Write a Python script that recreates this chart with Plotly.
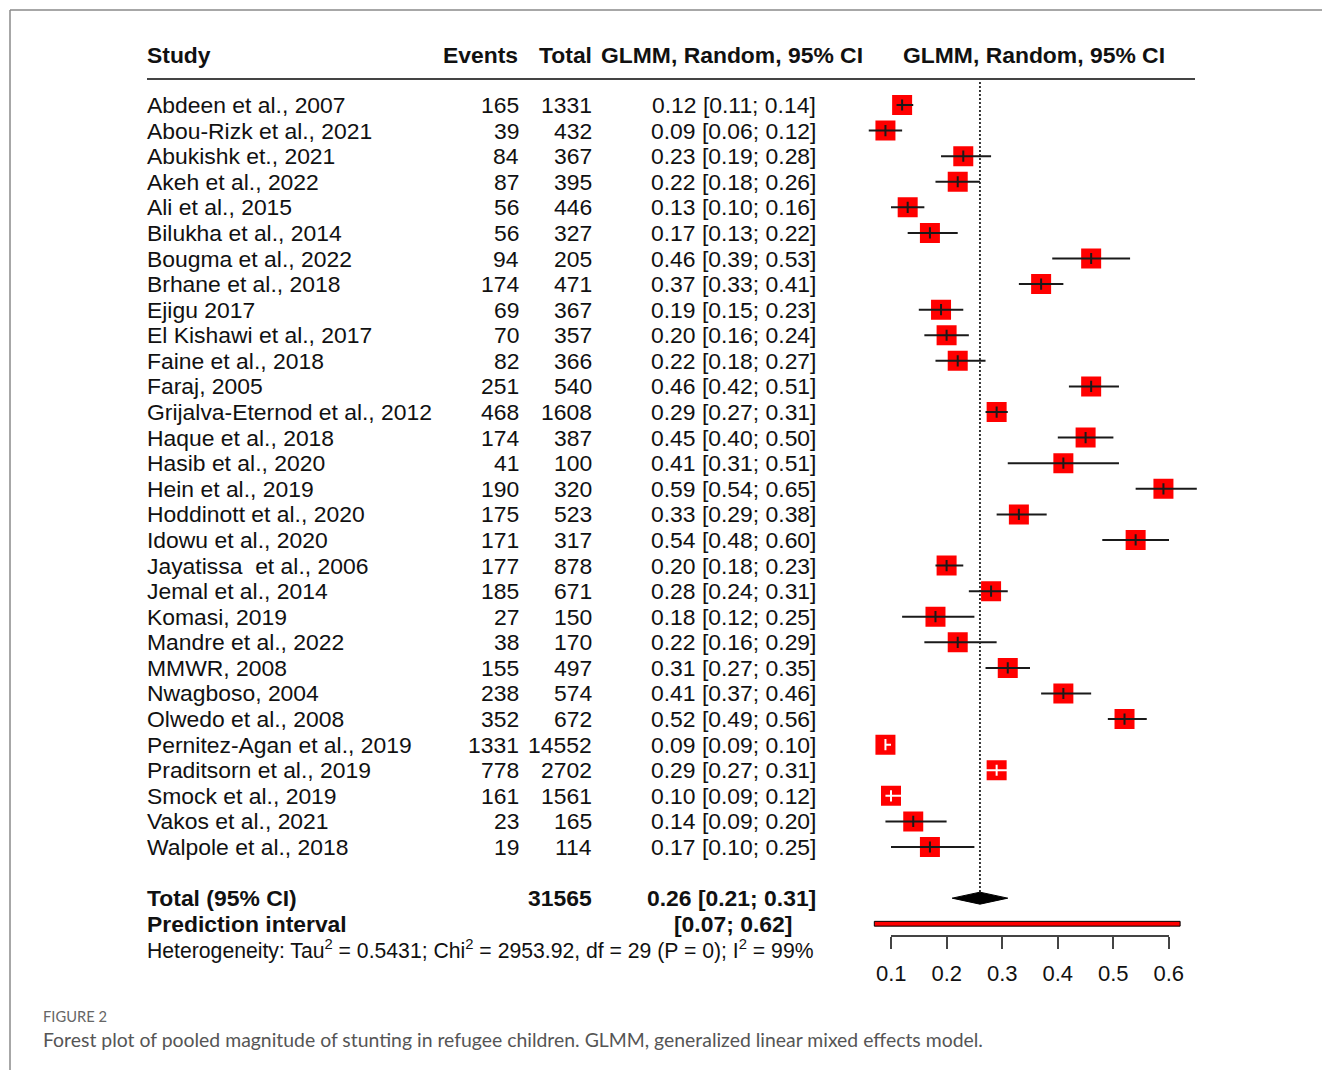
import math
import plotly.graph_objects as go

# ---------------- data ----------------
studies = [
    "Abdeen et al., 2007", "Abou-Rizk et al., 2021", "Abukishk et., 2021", "Akeh et al., 2022",
    "Ali et al., 2015", "Bilukha et al., 2014", "Bougma et al., 2022", "Brhane et al., 2018",
    "Ejigu 2017", "El Kishawi et al., 2017", "Faine et al., 2018", "Faraj, 2005",
    "Grijalva-Eternod et al., 2012", "Haque et al., 2018", "Hasib et al., 2020", "Hein et al., 2019",
    "Hoddinott et al., 2020", "Idowu et al., 2020", "Jayatissa\u00a0 et al., 2006", "Jemal et al., 2014",
    "Komasi, 2019", "Mandre et al., 2022", "MMWR, 2008", "Nwagboso, 2004",
    "Olwedo et al., 2008", "Pernitez-Agan et al., 2019", "Praditsorn et al., 2019", "Smock et al., 2019",
    "Vakos et al., 2021", "Walpole et al., 2018",
]
events = [165, 39, 84, 87, 56, 56, 94, 174, 69, 70, 82, 251, 468, 174, 41,
          190, 175, 171, 177, 185, 27, 38, 155, 238, 352, 1331, 778, 161, 23, 19]
totals = [1331, 432, 367, 395, 446, 327, 205, 471, 367, 357, 366, 540, 1608, 387, 100,
          320, 523, 317, 878, 671, 150, 170, 497, 574, 672, 14552, 2702, 1561, 165, 114]
est = [0.12, 0.09, 0.23, 0.22, 0.13, 0.17, 0.46, 0.37, 0.19, 0.20, 0.22, 0.46, 0.29, 0.45, 0.41,
       0.59, 0.33, 0.54, 0.20, 0.28, 0.18, 0.22, 0.31, 0.41, 0.52, 0.09, 0.29, 0.10, 0.14, 0.17]
ci_lo = [0.11, 0.06, 0.19, 0.18, 0.10, 0.13, 0.39, 0.33, 0.15, 0.16, 0.18, 0.42, 0.27, 0.40, 0.31,
         0.54, 0.29, 0.48, 0.18, 0.24, 0.12, 0.16, 0.27, 0.37, 0.49, 0.09, 0.27, 0.09, 0.09, 0.10]
ci_hi = [0.14, 0.12, 0.28, 0.26, 0.16, 0.22, 0.53, 0.41, 0.23, 0.24, 0.27, 0.51, 0.31, 0.50, 0.51,
         0.65, 0.38, 0.60, 0.23, 0.31, 0.25, 0.29, 0.35, 0.46, 0.56, 0.10, 0.31, 0.12, 0.20, 0.25]

pooled_est, pooled_lo, pooled_hi = 0.26, 0.21, 0.31
pred_lo, pred_hi = 0.07, 0.62
total_n = 31565
x_ticks = [0.1, 0.2, 0.3, 0.4, 0.5, 0.6]
header = ["Study", "Events", "Total", "GLMM, Random, 95% CI", "GLMM, Random, 95% CI"]
het_text = ("Heterogeneity: Tau<sup>2</sup> = 0.5431; Chi<sup>2</sup> = 2953.92, "
            "df = 29 (P = 0); I<sup>2</sup> = 99%")
fig_label = "FIGURE 2"
caption = ("Forest plot of pooled magnitude of stunting in refugee children. "
           "GLMM, generalized linear mixed effects model.")

# ---------------- geometry ----------------
W, H = 1322, 1070
ROW0_PX, ROW_PX = 105.0, 25.586
V_PX0, V2PX = 891.0, 556.0          # pixel of value 0.1, pixels per unit


def v2px(v):
    return V_PX0 + (v - 0.1) * V2PX


def prow(p):
    return (p - ROW0_PX) / ROW_PX


def fx(p):
    return p / W


def fy(p):
    return 1 - p / H


FONT = "Liberation Sans, Arial, sans-serif"
TXT = "#111111"
FS = 22.9
SQ = 20  # square size px

n = len(studies)
rows = list(range(n))
total_row = n + 1
pred_row = n + 2
het_row = n + 3

# which CI lines fall inside the square (drawn white), R meta style
half_sq = (SQ / 2) / V2PX
inside = []
for e, t in zip(events, totals):
    q = e / t
    z = 1.96
    c = (q + z * z / (2 * t)) / (1 + z * z / t)
    hw = z * math.sqrt(q * (1 - q) / t + z * z / (4 * t * t)) / (1 + z * z / t)
    inside.append((q - (c - hw)) < half_sq and ((c + hw) - q) < half_sq)

fig = go.Figure()

# dotted pooled line
fig.add_trace(go.Scatter(
    x=[pooled_est, pooled_est], y=[prow(82), total_row - 0.24], mode="lines",
    line=dict(color="#222", width=1.8, dash="2px,2px"), hoverinfo="skip", showlegend=False))

# squares
fig.add_trace(go.Scatter(
    x=est, y=rows, mode="markers",
    marker=dict(symbol="square", size=SQ, color="#FF0000", line=dict(width=0)),
    hoverinfo="skip", showlegend=False))

# CI lines
for col, flag in (("#1a1a1a", False), ("#FFFFFF", True)):
    xs, ys, cx, cy = [], [], [], []
    for i in rows:
        if inside[i] == flag:
            xs += [ci_lo[i], ci_hi[i], None]
            ys += [i, i, None]
            cx.append(est[i])
            cy.append(i)
    fig.add_trace(go.Scatter(x=xs, y=ys, mode="lines", line=dict(color=col, width=2),
                             hoverinfo="skip", showlegend=False))
    fig.add_trace(go.Scatter(x=cx, y=cy, mode="markers",
                             marker=dict(symbol="line-ns", size=8, line=dict(color=col, width=2)),
                             hoverinfo="skip", showlegend=False))

# diamond
dh = 6 / ROW_PX
fig.add_trace(go.Scatter(
    x=[pooled_lo, pooled_est, pooled_hi, pooled_est, pooled_lo],
    y=[total_row, total_row - dh, total_row, total_row + dh, total_row],
    mode="lines", fill="toself", fillcolor="#000000", line=dict(color="#000000", width=1),
    hoverinfo="skip", showlegend=False))

# prediction interval bar
ph = 2.4 / ROW_PX
fig.add_trace(go.Scatter(
    x=[pred_lo, pred_hi, pred_hi, pred_lo, pred_lo],
    y=[pred_row - ph, pred_row - ph, pred_row + ph, pred_row + ph, pred_row - ph],
    mode="lines", fill="toself", fillcolor="#FF0000", line=dict(color="#000000", width=1),
    hoverinfo="skip", showlegend=False))

# invisible trace for the tick axis
fig.add_trace(go.Scatter(x=x_ticks, y=[pred_row] * len(x_ticks), xaxis="x2", yaxis="y",
                         mode="markers", marker=dict(opacity=0), hoverinfo="skip",
                         showlegend=False))

ann = []


def add_text(text, x_px, row, anchor, size=FS, bold=False, color=TXT):
    ann.append(dict(text=f"<b>{text}</b>" if bold else text, x=fx(x_px), y=row, xref="paper",
                    yref="y", xanchor=anchor, yanchor="middle", showarrow=False, borderpad=0,
                    font=dict(family=FONT, size=size, color=color)))


# header
hr = prow(55)
add_text(header[0], 146, hr, "left", bold=True)
add_text(header[1], 519, hr, "right", bold=True)
add_text(header[2], 593, hr, "right", bold=True)
add_text(header[3], 732, hr, "center", bold=True)
add_text(header[4], 1034, hr, "center", bold=True)

for i in rows:
    add_text(studies[i], 146, i, "left")
    add_text(str(events[i]), 520, i, "right")
    add_text(str(totals[i]), 593, i, "right")
    add_text(f"{est[i]:.2f} [{ci_lo[i]:.2f}; {ci_hi[i]:.2f}]", 817, i, "right")

add_text("Total (95% CI)", 146, total_row, "left", bold=True)
add_text(str(total_n), 593, total_row, "right", bold=True)
add_text(f"{pooled_est:.2f} [{pooled_lo:.2f}; {pooled_hi:.2f}]", 817, total_row, "right", bold=True)
add_text("Prediction interval", 146, pred_row, "left", bold=True)
add_text(f"[{pred_lo:.2f}; {pred_hi:.2f}]", 793, pred_row, "right", bold=True)
add_text(het_text, 146, het_row, "left", size=21.2)

# caption
ann.append(dict(text=fig_label, x=fx(42), y=fy(1016), xref="paper", yref="paper",
                xanchor="left", yanchor="middle", showarrow=False, borderpad=0,
                font=dict(family="Lato, sans-serif", size=14.7, color="#666666")))
ann.append(dict(text=caption, x=fx(42), y=fy(1039), xref="paper", yref="paper",
                xanchor="left", yanchor="middle", showarrow=False, borderpad=0,
                font=dict(family="Lato, sans-serif", size=19.4, color="#555555")))

shapes = [
    # header rule
    dict(type="line", xref="paper", yref="y", x0=fx(147), x1=fx(1195), y0=prow(79), y1=prow(79),
         line=dict(color="#444444", width=2)),
    # frame
    dict(type="line", xref="paper", yref="paper", x0=fx(10), x1=1, y0=fy(10), y1=fy(10),
         line=dict(color="#8a8a8a", width=1.5)),
    dict(type="line", xref="paper", yref="paper", x0=fx(10), x1=fx(10), y0=fy(10), y1=0,
         line=dict(color="#8a8a8a", width=1.5)),
]

fig.update_layout(
    width=W, height=H, margin=dict(l=0, r=0, t=0, b=0, pad=0, autoexpand=False), autosize=False,
    paper_bgcolor="white", plot_bgcolor="rgba(0,0,0,0)", showlegend=False,
    xaxis=dict(domain=[fx(v2px(0.0)), fx(v2px(0.7))], range=[0.0, 0.7], visible=False,
               fixedrange=True),
    xaxis2=dict(domain=[fx(v2px(0.1)), fx(v2px(0.6))], range=[0.0995, 0.6005], anchor="free",
                position=fy(936), showline=True, linecolor="#444444", linewidth=2,
                ticks="outside", ticklen=12, tickwidth=2, tickcolor="#444444",
                tickvals=x_ticks, ticktext=[f"{v:.1f}" for v in x_ticks],
                tickfont=dict(family=FONT, size=22, color=TXT), ticklabelstandoff=6,
                showgrid=False, zeroline=False, fixedrange=True),
    yaxis=dict(domain=[0, 1], range=[prow(H), prow(0)], visible=False, fixedrange=True),
    annotations=ann, shapes=shapes,
)

fig.write_html("out.html", config={"displayModeBar": False},
               post_script="document.body.style.margin='0px';")
